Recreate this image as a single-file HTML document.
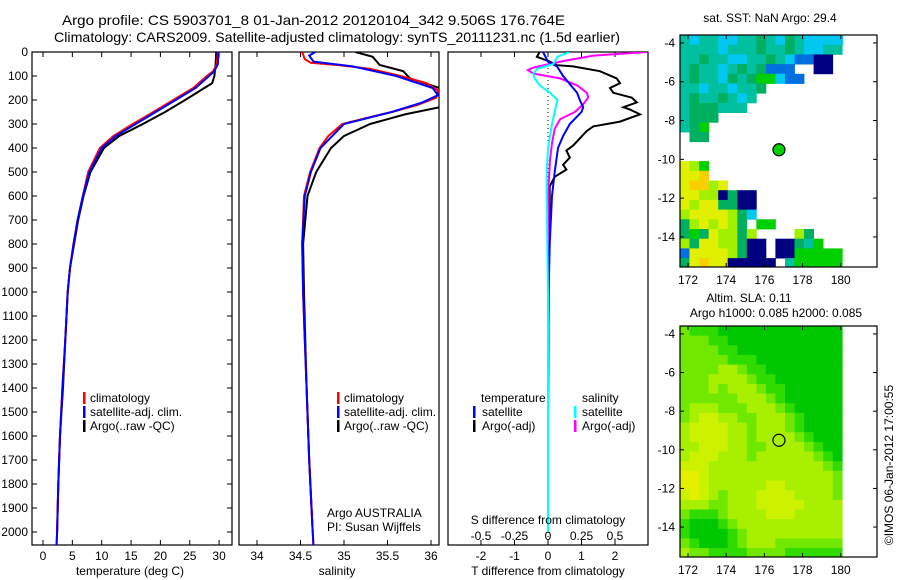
<!DOCTYPE html>
<html><head><meta charset="utf-8"><title>Argo profile</title>
<style>
html,body{margin:0;padding:0;background:#fff;}
svg{display:block;font-family:"Liberation Sans",sans-serif;}
text{fill:#000;font-size:12px;}
.ttl{font-size:14px;}
</style></head>
<body>
<svg id="fig" width="900" height="580" viewBox="0 0 900 580" xmlns="http://www.w3.org/2000/svg">
<defs>
<clipPath id="c1"><rect x="32" y="52" width="200" height="493"/></clipPath>
<clipPath id="c2"><rect x="239" y="52" width="200" height="493"/></clipPath>
<clipPath id="c3"><rect x="448" y="52" width="200" height="493"/></clipPath>
</defs>
<text class="ttl" x="62" y="25" textLength="503" lengthAdjust="spacingAndGlyphs">Argo profile: CS 5903701_8 01-Jan-2012 20120104_342 9.506S 176.764E</text>
<text class="ttl" x="54" y="42" textLength="566" lengthAdjust="spacingAndGlyphs">Climatology: CARS2009. Satellite-adjusted climatology: synTS_20111231.nc (1.5d earlier)</text>
<g id="g1"></g>
<g id="g2"></g>
<g id="g3"></g>
<g id="g4"></g>
<g id="g5"></g>
<text transform="translate(893,465) rotate(-90)" text-anchor="middle">©IMOS 06-Jan-2012 17:00:55</text>
</svg>
<script>
// ---- temperature panel data ----
const tDepthClim = [0,50,80,100,150,200,250,300,350,400,500,600,700,800,900,1000,1200,1400,1600,1800,2000,2060];
const tClim = [29.8,29.6,29.0,27.9,25.6,22.2,18.8,15.3,12.0,9.7,7.7,6.8,5.9,5.2,4.6,4.2,3.8,3.3,2.9,2.6,2.4,2.3];
const tSat  = [29.9,29.8,29.2,28.3,26.0,22.6,19.2,15.8,12.4,10.0,7.9,6.8,5.9,5.2,4.6,4.2,3.8,3.3,2.9,2.6,2.4,2.3];
const tDepthArgo = [0,50,100,130,150,200,250,300,350,400,500,600,700,800,900,1000,1200,1400,1600,1800,2000];
const tArgo = [29.5,29.4,29.2,28.8,27.5,24.2,20.8,17.0,13.0,10.4,8.1,6.9,6.0,5.3,4.6,4.2,3.8,3.4,2.9,2.6,2.4];
const tTicks = [0,5,10,15,20,25,30];
const depthTicks = [0,100,200,300,400,500,600,700,800,900,1000,1100,1200,1300,1400,1500,1600,1700,1800,1900,2000];
// ---- salinity panel data ----
const sDepthClim = [0,30,45,55,70,100,130,160,190,220,250,280,300,350,400,500,600,800,1000,1200,1400,1700,2000,2060];
const sClim = [34.52,34.55,34.62,34.95,35.3,35.65,35.95,36.08,36.06,35.85,35.55,35.2,34.98,34.82,34.72,34.61,34.54,34.52,34.53,34.55,34.57,34.6,34.64,34.65];
const sDepthSat = [0,15,40,60,100,150,180,210,250,300,400,500,600,800,1000,1200,1400,1700,2000,2060];
const sSat = [34.67,34.6,34.65,35.1,35.6,36.02,36.08,35.9,35.55,35.0,34.73,34.62,34.55,34.52,34.53,34.55,34.57,34.6,34.64,34.65];
const sDepthArgo = [0,20,54,80,110,150,200,230,260,300,350,400,500,600,800,1000,1400,1700,2000];
const sArgo = [35.13,35.33,35.41,35.68,35.76,36.1,36.2,36.1,35.7,35.3,35.0,34.85,34.68,34.58,34.53,34.54,34.57,34.6,34.64];
const salTicks = [34,34.5,35,35.5,36];
// ---- difference panel data ----
const dDepthT = [0,40,60,100,150,170,200,230,250,300,350,400,500,600,800,1000,1500,2000];
const dTSat = [-0.15,0,0.27,0.45,0.75,0.87,0.95,1.05,1.0,0.65,0.45,0.3,0.2,0.12,0.05,0.02,0.0,0.0];
const dDepthTA = [0,20,40,55,60,80,110,130,150,170,190,210,230,240,260,290,310,330,360,390,410,440,470,490,520,560,600,800,1000,1500,2000];
const dTArgo = [-0.25,-0.33,0.05,0.27,0.75,1.55,2.05,2.15,1.85,1.95,2.5,2.65,2.25,2.45,2.75,2.15,1.35,1.15,0.95,0.75,0.55,0.65,0.45,0.55,0.2,0.05,0.05,0.03,0.02,0.0,0.0];
const dDepthS = [0,20,50,70,90,110,140,170,200,250,300,400,500,600,1000,1500,2000];
const dSSat = [0.16,0.07,0.04,-0.08,-0.11,-0.1,-0.06,0.015,0.07,0.05,0.03,0,-0.01,-0.01,0,0,0];
const dDepthSA = [0,15,35,50,65,75,90,110,140,170,190,220,250,280,320,380,450,550,700,1000,2000];
const dSArgo = [0.74,0.34,0.14,0.01,-0.11,-0.15,-0.11,0.09,0.22,0.29,0.3,0.26,0.2,0.09,0.05,0.03,0.015,0.005,0,0,0];
const dTTicks = [-2,-1,0,1,2];
const dSTicks = [-0.5,-0.25,0,0.25,0.5];
const dSTickLabels = ["-0.5","-0.25","0","0.25","0.5"];
// ---- map data ----
const lonTicks = [172,174,176,178,180];
const latTicks = [-4,-6,-8,-10,-12,-14];
const sstRows = [
"cbccbbccgcbgcbbbbb",
"ccccbcccgccgcbbcc",
"ccgccbbccgcbBBNN",
"cgccbcgcgBBB..NN",
"cgccbgcgGGbBB",
"ccbccbccg",
"cgccgcbc",
"cgggccc",
"cggg",
"cgG",
".gg",
"",
"",
"ylG",
"yyo",
"yooly",
"yyllNgNN",
"ylyyggNN",
"lyyyylgb",
"glylylg.GG",
"gGgyllgl....lg",
"lgyyllgNN.NNgcG",
"ByyyylgNN.NNGGGGG",
"gyoyyNNNNN.cGGGGG"];
const sstColors = {c:"#00c0a0",g:"#00b060",b:"#00c8f0",B:"#0070e0",N:"#000080",y:"#e0f000",o:"#f8d000",l:"#a0f000",G:"#00d000"};
const slaRows = [
"21110000000000000","22211000000000000","22221100000000000","22222111000000000",
"22223321100000000","22233332110000000","22232333211000000","22222233321000000",
"23332223332100000","23443322333210000","34444332333210000","34444332333321000",
"33444332233332100","34443332333333210","44433333333333321","55433333333333332",
"55433333344333332","45432333444433332","33322333444443333","21112333344433333",
"10001233333333333","10000123333333333","21000123332222222","32211112222111111"];
const slaColors = ["#00c800","#30dc00","#70e800","#a8f000","#ccf200","#e4f000"];
const argoLon = 176.764, argoLat = -9.506;

const NS="http://www.w3.org/2000/svg";
function mk(parent,tag,attrs){const e=document.createElementNS(NS,tag);for(const k in attrs)e.setAttribute(k,attrs[k]);parent.appendChild(e);return e;}
const yD = d => 52 + 0.24*d;
const xT = t => 43 + 5.87*t;
const xS = s => 257 + 87*(s-34);
const xDT = t => 548 + 33.5*t;
const xDS = s => 548 + 134*s;

function box(g,x,y,w,h){const r=mk(g,"rect",{x:x,y:y,width:w,height:h,fill:"none",stroke:"#000","stroke-width":1.2});}
function line(g,depths,vals,fx,color,name,clip){
  const pts=depths.map((d,i)=>fx(vals[i]).toFixed(1)+","+yD(d).toFixed(1)).join(" ");
  const p=mk(g,"polyline",{points:pts,fill:"none",stroke:color,"stroke-width":2,"clip-path":"url(#"+clip+")"});
  
  
}
function txt(g,x,y,s,anchor,name){const t=mk(g,"text",{x:x,y:y,"text-anchor":anchor||"start"});t.textContent=s;return t;}
function legendBar(g,x,yc,color,name){const r=mk(g,"rect",{x:x,y:yc-6,width:2.5,height:12,fill:color});}

// Panel 1
const g1=document.getElementById("g1");
box(g1,32,52,200,493);
depthTicks.forEach(d=>{const y=yD(d);mk(g1,"line",{x1:32,x2:37,y1:y,y2:y,stroke:"#000"});mk(g1,"line",{x1:227,x2:232,y1:y,y2:y,stroke:"#000"});txt(g1,28,y+4,String(d),"end","depth-tick-label");});
tTicks.forEach(t=>{const x=xT(t);mk(g1,"line",{x1:x,x2:x,y1:52,y2:57,stroke:"#000"});mk(g1,"line",{x1:x,x2:x,y1:540,y2:545,stroke:"#000"});txt(g1,x,560,String(t),"middle","temperature-tick-label");});
line(g1,tDepthArgo,tArgo,xT,"#000","temperature-argo-line","c1");
line(g1,tDepthClim,tClim,xT,"#f00","temperature-climatology-line","c1");
line(g1,tDepthClim,tSat,xT,"#00f","temperature-satellite-line","c1");
legendBar(g1,83,398,"#f00","legend-climatology-marker");txt(g1,90,402,"climatology","start","legend-climatology");
legendBar(g1,83,412,"#00f","legend-satellite-marker");txt(g1,90,416,"satellite-adj. clim.","start","legend-satellite");
legendBar(g1,83,426,"#000","legend-argo-marker");txt(g1,90,430,"Argo(..raw -QC)","start","legend-argo");
txt(g1,130,575,"temperature (deg C)","middle","temperature-axis-title");

// Panel 2
const g2=document.getElementById("g2");
box(g2,239,52,200,493);
salTicks.forEach(s=>{const x=xS(s);mk(g2,"line",{x1:x,x2:x,y1:52,y2:57,stroke:"#000"});mk(g2,"line",{x1:x,x2:x,y1:540,y2:545,stroke:"#000"});txt(g2,x,560,String(s),"middle","salinity-tick-label");});
line(g2,sDepthArgo,sArgo,xS,"#000","salinity-argo-line","c2");
line(g2,sDepthClim,sClim,xS,"#f00","salinity-climatology-line","c2");
line(g2,sDepthSat,sSat,xS,"#00f","salinity-satellite-line","c2");
legendBar(g2,337,398,"#f00","legend-climatology-marker");txt(g2,344,402,"climatology","start","legend-climatology");
legendBar(g2,337,412,"#00f","legend-satellite-marker");txt(g2,344,416,"satellite-adj. clim.","start","legend-satellite");
legendBar(g2,337,426,"#000","legend-argo-marker");txt(g2,344,430,"Argo(..raw -QC)","start","legend-argo");
txt(g2,327,517,"Argo AUSTRALIA","start","argo-program-label");
txt(g2,327,531,"PI: Susan Wijffels","start","pi-label");
txt(g2,337,575,"salinity","middle","salinity-axis-title");

// Panel 3
const g3=document.getElementById("g3");
box(g3,448,52,200,493);
dTTicks.forEach(t=>{const x=xDT(t);mk(g3,"line",{x1:x,x2:x,y1:52,y2:57,stroke:"#000"});mk(g3,"line",{x1:x,x2:x,y1:540,y2:545,stroke:"#000"});txt(g3,x,560,String(t),"middle","t-diff-tick-label");});
dSTicks.forEach((s,i)=>{txt(g3,xDS(s),540,dSTickLabels[i],"middle","s-diff-tick-label");});
mk(g3,"line",{x1:548,x2:548,y1:52,y2:545,stroke:"#000","stroke-dasharray":"1,3"});
line(g3,dDepthTA,dTArgo,xDT,"#000","t-diff-argo-line","c3");
line(g3,dDepthSA,dSArgo,xDS,"#f0f","s-diff-argo-line","c3");
line(g3,dDepthT,dTSat,xDT,"#00f","t-diff-satellite-line","c3");
line(g3,dDepthS,dSSat,xDS,"#0ff","s-diff-satellite-line","c3");
txt(g3,481,402,"temperature","start","legend-temperature-header");
legendBar(g3,473,412,"#00f","legend-t-satellite-marker");txt(g3,482,416,"satellite","start","legend-t-satellite");
legendBar(g3,473,426,"#000","legend-t-argo-marker");txt(g3,482,430,"Argo(-adj)","start","legend-t-argo");
txt(g3,582,402,"salinity","start","legend-salinity-header");
legendBar(g3,574,412,"#0ff","legend-s-satellite-marker");txt(g3,582,416,"satellite","start","legend-s-satellite");
legendBar(g3,574,426,"#f0f","legend-s-argo-marker");txt(g3,582,430,"Argo(-adj)","start","legend-s-argo");
txt(g3,548,524,"S difference from climatology","middle","s-diff-axis-title");
txt(g3,548,575,"T difference from climatology","middle","t-diff-axis-title");

// Maps
function map(g,top,bottom,rows,colorFn,cellName,filled){
  const lon0=171.58, lon1=181.9, lat0=-3.59, lat1=-15.55;
  const xL=lo=>680+(lo-lon0)*(197/(lon1-lon0));
  const yL=la=>top+(lat0-la)*((bottom-top)/(lat0-lat1));
  rows.forEach((row,r)=>{
    for(let c=0;c<row.length;c++){
      const col=colorFn(row[c]); if(!col) continue;
      const la=lat0-0.5*r, lo=lon0+0.5*c;
      const x0=xL(lo), x1=Math.min(xL(lo+0.5),xL(180.1)), y0=yL(la), y1=Math.min(yL(la-0.5),bottom);
      const rc=mk(g,"rect",{x:x0.toFixed(1),y:y0.toFixed(1),width:(x1-x0+0.4).toFixed(1),height:(y1-y0+0.4).toFixed(1),fill:col});
      
      
    }
  });
  box(g,680,top,197,bottom-top);
  lonTicks.forEach(lo=>{const x=xL(lo);mk(g,"line",{x1:x,x2:x,y1:top,y2:top+4,stroke:"#000"});mk(g,"line",{x1:x,x2:x,y1:bottom-4,y2:bottom,stroke:"#000"});txt(g,x,bottom+17,String(lo),"middle","longitude-tick-label");});
  latTicks.forEach(la=>{const y=yL(la);mk(g,"line",{x1:680,x2:684,y1:y,y2:y,stroke:"#000"});mk(g,"line",{x1:873,x2:877,y1:y,y2:y,stroke:"#000"});txt(g,675,y+4,String(la),"end","latitude-tick-label");});
  const m=mk(g,"circle",{cx:xL(argoLon),cy:yL(argoLat),r:6,fill:filled?"#00d000":"none",stroke:"#000","stroke-width":1.2});
  
  
}
const g4=document.getElementById("g4");
map(g4,35,267,sstRows,ch=>sstColors[ch],"sst-cell",true);
txt(g4,770,22,"sat. SST: NaN Argo: 29.4","middle","sst-map-title");
const g5=document.getElementById("g5");
map(g5,326,557,slaRows,ch=>slaColors[+ch],"sla-cell",false);
txt(g5,749,302,"Altim. SLA: 0.11","middle","sla-map-title");
txt(g5,776,317,"Argo h1000: 0.085 h2000: 0.085","middle","sla-map-subtitle");
</script>
</body></html>
